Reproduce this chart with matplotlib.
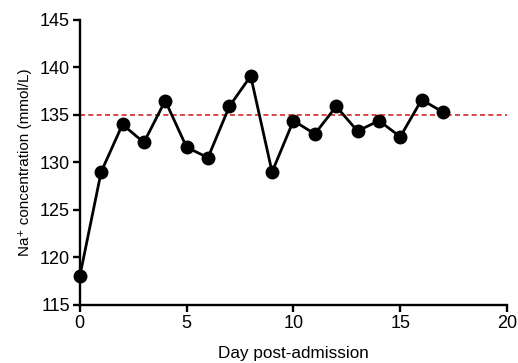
import matplotlib
matplotlib.use("Agg")
import matplotlib.pyplot as plt

days = list(range(18))
sodium = [118.0, 129.0, 134.0, 132.1, 136.5, 131.6, 130.5, 135.9, 139.1, 129.0,
          134.4, 133.0, 135.9, 133.3, 134.4, 132.7, 136.6, 135.3]
reference_level = 135.0
xticks = [0, 5, 10, 15, 20]
yticks = [115, 120, 125, 130, 135, 140, 145]

plt.rcParams['font.family'] = ['Liberation Sans', 'DejaVu Sans']

fig = plt.figure(figsize=(5.18, 3.63), dpi=100)
ax = fig.add_axes([0.154, 0.160, 0.825, 0.785])

ax.axhline(reference_level, color='#d62828', linestyle=(0, (3, 2)), linewidth=1.2, zorder=1)
ax.plot(days, sodium, color='black', linewidth=2.0, marker='o', markersize=9,
        clip_on=False, zorder=3)

ax.set_xlim(0, 20)
ax.set_ylim(115, 145)
ax.set_xticks(xticks)
ax.set_yticks(yticks)
for side in ['top', 'right']:
    ax.spines[side].set_visible(False)
for side in ['left', 'bottom']:
    ax.spines[side].set_linewidth(1.7)
ax.tick_params(direction='out', length=5, width=1.7, labelsize=13, colors='black', pad=2)
ax.set_xlabel('Day post-admission', fontsize=12.3, labelpad=10)
ax.set_ylabel('Na\u207a concentration (mmol/L)', fontsize=11, labelpad=6)

fig.savefig('out.png', dpi=100)
